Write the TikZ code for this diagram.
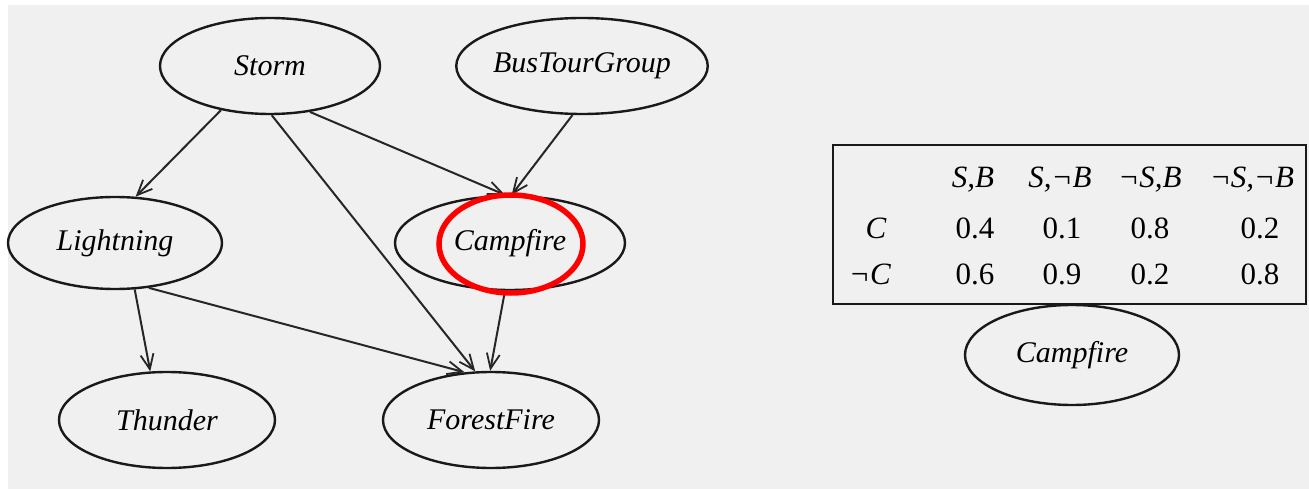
\documentclass[tikz,border=0pt]{standalone}
\usepackage{fontspec}
\setmainfont{Liberation Serif}
\usetikzlibrary{shapes.geometric,arrows.meta}
\tikzset{
  bn/.style={ellipse, draw=black!90, line width=2.4pt, inner sep=0pt,
    font=\fontsize{30}{36}\selectfont\itshape},
  edge/.style={draw=black!85, line width=2pt,
    -{Straight Barb[length=15pt,width=13pt,line width=1.8pt]}},
  cell/.style={font=\fontsize{31}{36}\selectfont, inner sep=0pt, anchor=base},
  hl/.style={ellipse, draw=red, line width=5.5pt, inner sep=0pt}
}
\begin{document}
\begin{tikzpicture}[x=1pt,y=-1pt]
\useasboundingbox (0,0) rectangle (1309,489);
\fill[white] (0,0) rectangle (1309,489);
\fill[black!6] (8,5) rectangle (1309,489);
% nodes
\node[bn, minimum width=220pt, minimum height=96pt] (storm) at (270,66) {Storm};
\node[bn, minimum width=194pt, minimum height=96pt] (bus) at (582,66) {BusTourGroup};
\node[bn, minimum width=214pt, minimum height=92pt] (light) at (115,243) {Lightning};
\node[bn, minimum width=230pt, minimum height=94pt] (camp) at (510,243) {Campfire};
\node[bn, minimum width=216pt, minimum height=96pt] (thunder) at (167,420) {Thunder};
\node[bn, minimum width=216pt, minimum height=96pt] (forest) at (491,420) {ForestFire};
\node[bn, minimum width=214pt, minimum height=100pt] (camp2) at (1072,355) {Campfire};
% edges
\draw[edge] (storm.222) -- (light.66);
\draw[edge] (storm.311) -- (camp.96);
\draw[edge] (storm.272) -- (forest.108);
\draw[edge] (bus.259) -- (camp.88);
\draw[edge] (light.293) -- (thunder.109);
\draw[edge] (light.307) -- (forest.119);
\draw[edge] (camp.264) -- (forest.91);
% highlight
\node[hl, minimum width=144pt, minimum height=98pt] (mark) at (511,244) {};
% table
\draw[black!90, line width=2.4pt] (833,145) rectangle (1306,304);
\node[cell] (h1) at (973,188) {\itshape S,B};
\node[cell] (h2) at (1060,188) {\itshape S,¬B};
\node[cell] (h3) at (1150,188) {\itshape ¬S,B};
\node[cell] (h4) at (1252,188) {\itshape ¬S,¬B};
\node[cell] (r1) at (876,238) {\itshape C};
\node[cell] (r2) at (870,284) {\itshape ¬C};
\node[cell] (a1) at (975,238) {0.4};
\node[cell] (a2) at (1062,238) {0.1};
\node[cell] (a3) at (1150,238) {0.8};
\node[cell] (a4) at (1260,238) {0.2};
\node[cell] (b1) at (975,284) {0.6};
\node[cell] (b2) at (1062,284) {0.9};
\node[cell] (b3) at (1150,284) {0.2};
\node[cell] (b4) at (1260,284) {0.8};
\end{tikzpicture}
\end{document}
